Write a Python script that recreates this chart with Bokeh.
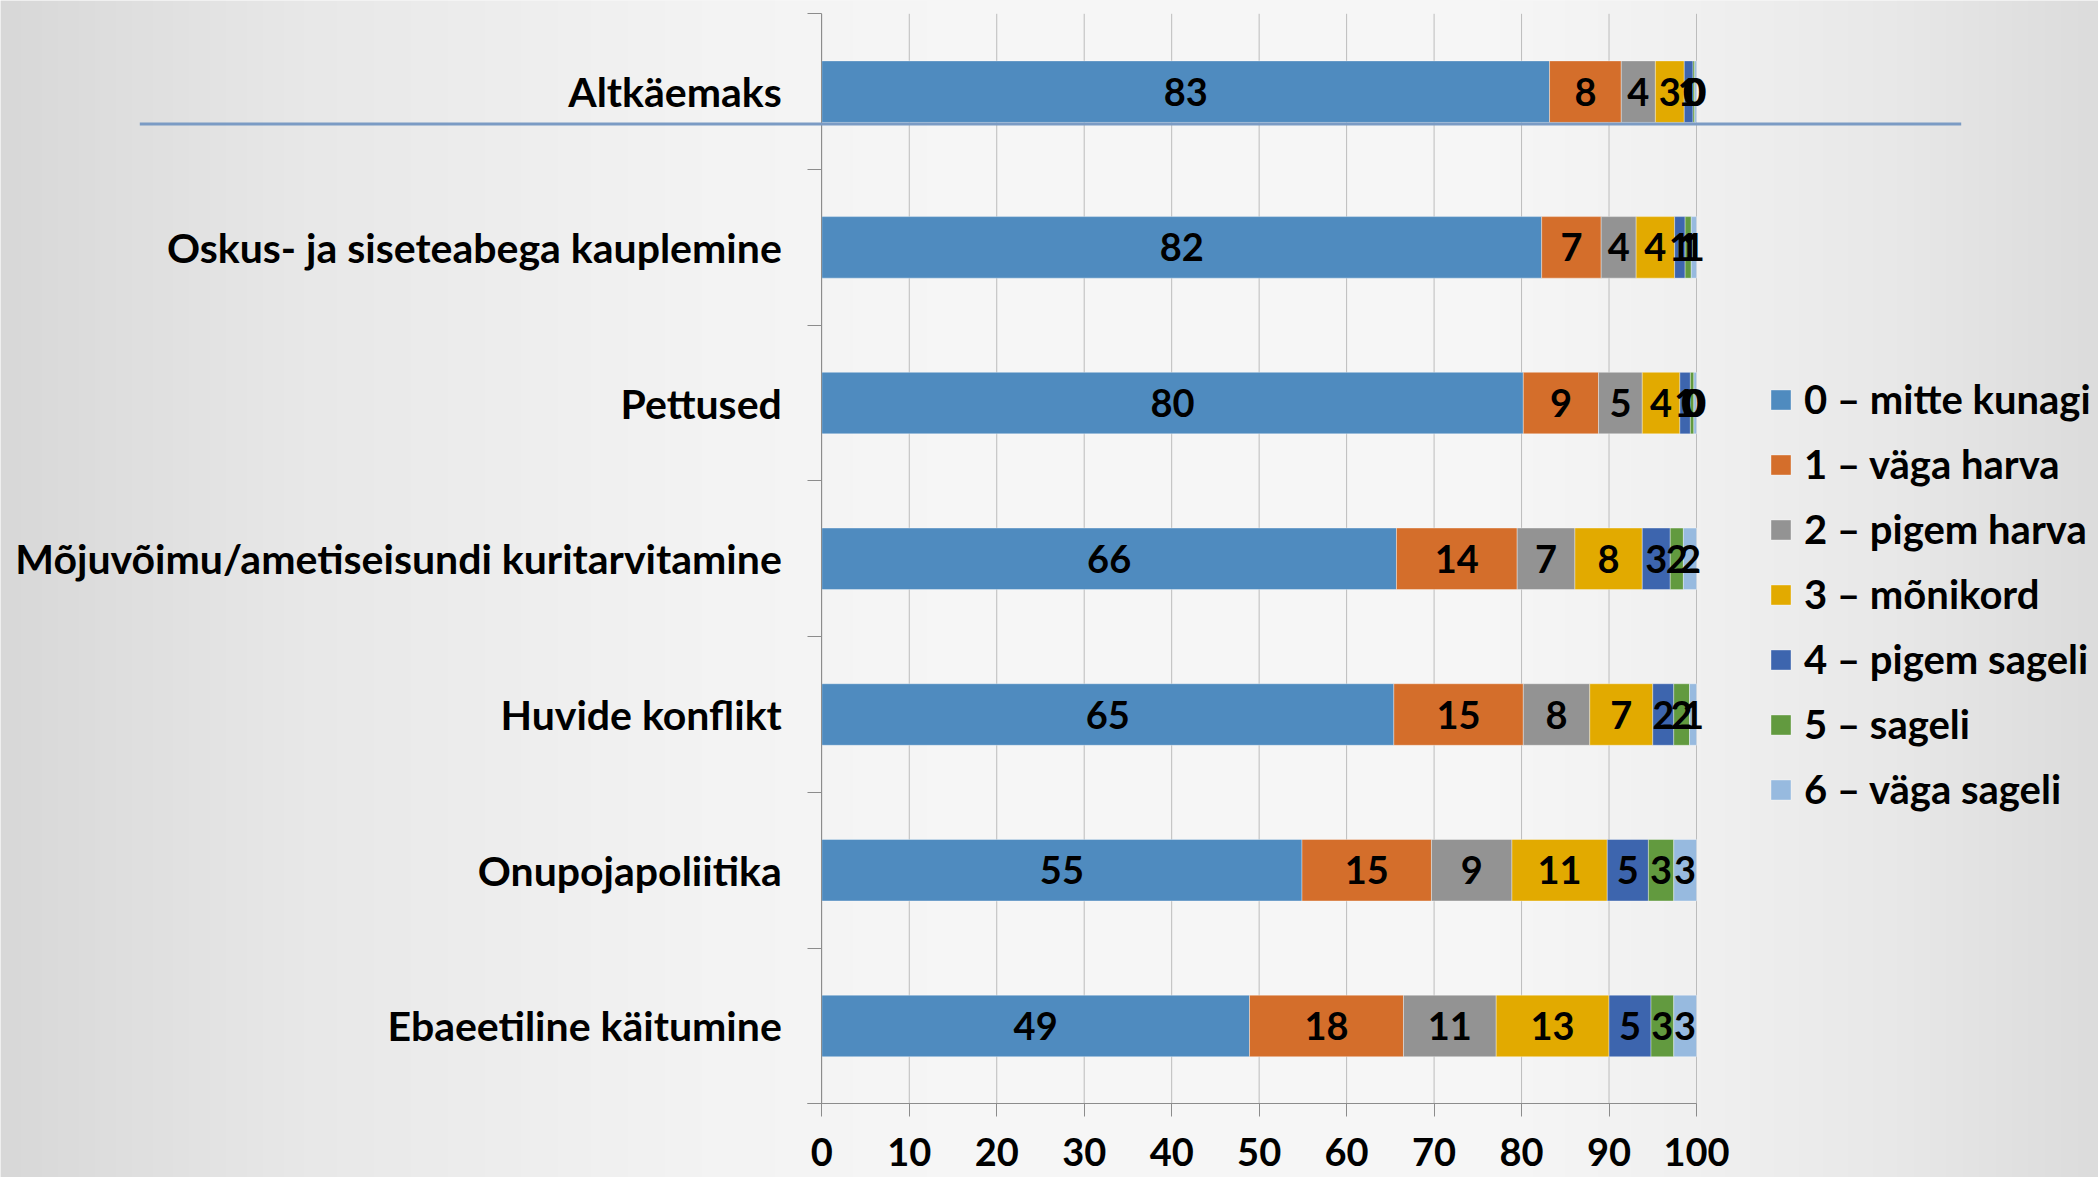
import numpy as np
from bokeh.plotting import figure
from bokeh.models import (ColumnDataSource, FixedTicker, Range1d, Legend, LegendItem,
                          BoxAnnotation)
from bokeh.core.properties import value
from bokeh.embed import file_html
from bokeh.resources import INLINE

# ---------------- data ----------------
categories = ["Altkäemaks", "Oskus- ja siseteabega kauplemine", "Pettused",
              "Mõjuvõimu/ametiseisundi kuritarvitamine", "Huvide konflikt",
              "Onupojapoliitika", "Ebaeetiline käitumine"]
series_names = ["0 – mitte kunagi", "1 – väga harva", "2 – pigem harva", "3 – mõnikord",
                "4 – pigem sageli", "5 – sageli", "6 – väga sageli"]
s0 = [83.2, 82.3, 80.2, 65.7, 65.4, 54.9, 48.9]
s1 = [8.2, 6.8, 8.6, 13.8, 14.8, 14.8, 17.6]
s2 = [3.9, 4.0, 5.0, 6.6, 7.6, 9.2, 10.6]
s3 = [3.3, 4.4, 4.3, 7.7, 7.2, 10.9, 12.9]
s4 = [1.0, 1.2, 1.2, 3.2, 2.4, 4.7, 4.8]
s5 = [0.2, 0.7, 0.4, 1.5, 1.8, 2.9, 2.6]
s6 = [0.2, 0.6, 0.3, 1.5, 0.8, 2.6, 2.6]
x_ticks = [0, 10, 20, 30, 40, 50, 60, 70, 80, 90, 100]
colors = ["#4f8bbf", "#d46e2b", "#939393", "#e2aa00", "#3d65ae", "#629a3f", "#97badf"]

series = [s0, s1, s2, s3, s4, s5, s6]
keys = ["s%d" % i for i in range(len(series))]
ypos = [i + 1 for i in range(len(categories))]
y_lo, y_hi = 0.5, len(categories) + 0.5
x_lo, x_hi = x_ticks[0], x_ticks[-1]

FONT = "Lato"

# ---------------- layout (pixels) ----------------
W, H = 2098, 1177
PX_X0, PX_X1 = 821.3, 1696.0      # screen x of x_lo / x_hi
PX_Y0, PX_Y1 = 13.3, 1103.3       # screen y of y_lo / y_hi
sx = (PX_X1 - PX_X0) / (x_hi - x_lo)
sy = (PX_Y1 - PX_Y0) / (y_hi - y_lo)
xr = Range1d(x_lo - PX_X0 / sx, x_hi + (W - PX_X1) / sx)
yr = Range1d(y_hi + (H - PX_Y1) / sy, y_lo - PX_Y0 / sy)

src = {"y": ypos}
for k, s in zip(keys, series):
    src[k] = s
source = ColumnDataSource(src)

p = figure(width=W, height=H, output_backend="svg", toolbar_location=None,
           x_range=xr, y_range=yr, min_border=0)
p.background_fill_color = "#f0f0f0"
p.border_fill_color = "#f0f0f0"
p.outline_line_color = None
p.xgrid.visible = False
p.ygrid.visible = False

# slide background gradient (decoration)
stops_px = [0, 300, 700, 1000, 1500, 1700, 1900, W]
stops_v = [216, 232, 243, 247, 246, 240, 232, 220]
cols = np.interp(np.linspace(0, W, 512), stops_px, stops_v).astype(np.uint32)
img = (255 << 24) | (cols << 16) | (cols << 8) | cols
img = img.reshape(1, -1).astype(np.uint32)
p.image_rgba(image=[img], x=xr.start, y=min(yr.start, yr.end),
             dw=xr.end - xr.start, dh=abs(yr.start - yr.end), level="image")

# vertical grid lines within the plot area
p.segment(x0=x_ticks, y0=[y_lo] * len(x_ticks), x1=x_ticks, y1=[y_hi] * len(x_ticks),
          line_color="#bcbcbc", line_width=1)

renderers = p.hbar_stack(keys, y="y", height=0.395, color=colors, source=source,
                         line_color="#ffffff", line_width=0.6, line_alpha=0.6)

# decorative slide line (screen units)
p.add_layout(BoxAnnotation(left=139.3, right=1960.7, bottom=H - 125, top=H - 122,
                           left_units="screen", right_units="screen",
                           top_units="screen", bottom_units="screen",
                           fill_color="#7b9bc4", fill_alpha=1, line_color=None))

# segment labels
lx, ly, lt = [], [], []
for j in range(len(categories)):
    cum = 0.0
    for s in series:
        v = s[j]
        lx.append(cum + v / 2.0)
        ly.append(ypos[j])
        lt.append(format(v, ".0f"))
        cum += v
lsrc = ColumnDataSource(dict(x=lx, y=ly, t=lt))
p.text(x="x", y="y", text="t", source=lsrc, text_font=value(FONT),
       text_font_style="bold", text_font_size="38px", text_align="center",
       text_baseline="middle", text_color="#000000")

# x axis
xa = p.xaxis[0]
xa.fixed_location = y_hi
xa.bounds = (x_lo - 14 / sx, x_hi)
xa.ticker = FixedTicker(ticks=x_ticks)
xa.axis_line_color = "#8c8c8c"
xa.major_tick_line_color = "#8c8c8c"
xa.major_tick_out = 13
xa.major_tick_in = 0
xa.minor_tick_line_color = None
xa.major_label_text_font = FONT
xa.major_label_text_font_style = "bold"
xa.major_label_text_font_size = "38px"
xa.major_label_text_color = "#000000"
xa.major_label_standoff = 21

# y axis
ya = p.yaxis[0]
ya.fixed_location = x_lo
ya.bounds = (y_lo, y_hi)
ya.ticker = FixedTicker(ticks=ypos, minor_ticks=[i + 0.5 for i in range(len(categories) + 1)])
ya.major_label_overrides = {y: c for y, c in zip(ypos, categories)}
ya.axis_line_color = "#8c8c8c"
ya.major_tick_out = 0
ya.major_tick_in = 0
ya.minor_tick_out = 14
ya.minor_tick_in = 0
ya.minor_tick_line_color = "#8c8c8c"
ya.major_label_text_font = FONT
ya.major_label_text_font_style = "bold"
ya.major_label_text_font_size = "41px"
ya.major_label_text_color = "#000000"
ya.major_label_standoff = 26

legend = Legend(items=[LegendItem(label=n, renderers=[r]) for n, r in zip(series_names, renderers)],
                location=(1768, H - 813), glyph_width=25, glyph_height=25,
                label_text_font=FONT, label_text_font_style="bold",
                label_text_font_size="40px", label_text_color="#000000",
                spacing=17, padding=0, margin=0, label_standoff=11,
                border_line_color=None, background_fill_alpha=0)
p.add_layout(legend, "center")

open("out.html", "w").write(file_html(p, INLINE))
